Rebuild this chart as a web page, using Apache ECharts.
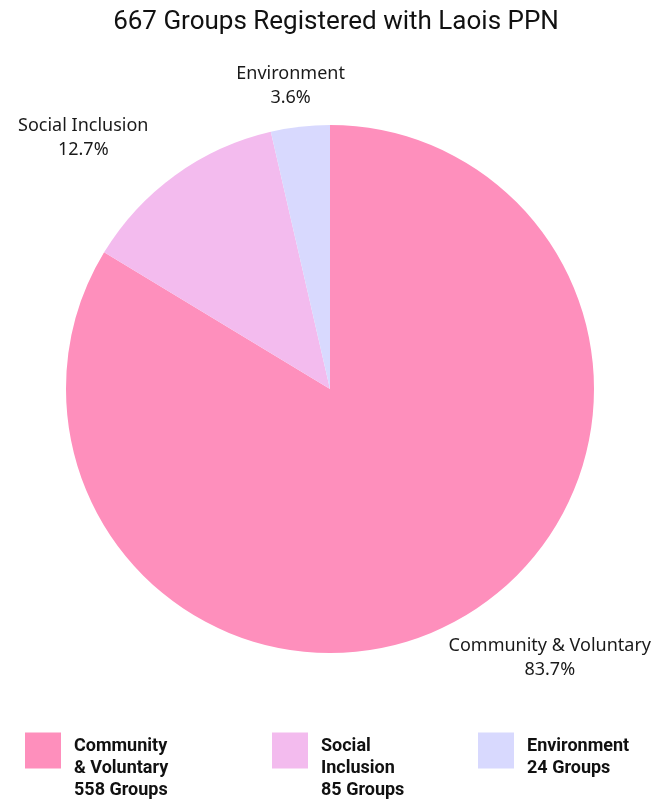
<!DOCTYPE html>
<html>
<head>
<meta charset="utf-8">
<script src="https://cdn.jsdelivr.net/npm/echarts@6/dist/echarts.min.js"></script>
<style>
  html, body { margin: 0; padding: 0; background: #fff; }
  #main { width: 672px; height: 802px; }
</style>
</head>
<body>
<div id="main"></div>
<script>
  var categories = ['Community & Voluntary', 'Social Inclusion', 'Environment'];
  var legendNames = [['Community', '& Voluntary'], ['Social', 'Inclusion'], ['Environment']];
  var groupCounts = [558, 85, 24];
  var colors = ['#fe8fbc', '#f3bbee', '#d8d9fe'];
  var total = 667;

  // label line lengths so the labels sit where the original put them
  var lineLen = [45, 46, 41];
  var lineLen2 = [63, 60, 0];

  var chart = echarts.init(document.getElementById('main'));

  var pieData = categories.map(function (name, i) {
    return {
      name: name,
      value: groupCounts[i],
      itemStyle: { color: colors[i] },
      labelLine: { show: false, length: lineLen[i], length2: lineLen2[i] }
    };
  });

  // legend text is vertically centred on the icon, so a spacer line
  // on top pushes it down to start level with the square
  function makeLegend(i, left, top, spacer) {
    return {
      data: [categories[i]],
      left: left,
      top: top,
      padding: 0,
      icon: 'rect',
      itemWidth: 36,
      itemHeight: 36,
      selectedMode: false,
      formatter: function () {
        var lines = legendNames[i].concat([groupCounts[i] + ' Groups']);
        return '{s| }\n' + lines.map(function (t) { return '{b|' + t + '}'; }).join('\n');
      },
      textStyle: {
        padding: [0, 0, 0, 8],
        rich: {
          s: { fontSize: 4, lineHeight: spacer },
          b: {
            fontFamily: 'Roboto',
            fontWeight: 'bold',
            fontSize: 18,
            lineHeight: 22,
            color: '#111'
          }
        }
      }
    };
  }

  var option = {
    animation: false,
    title: {
      text: total + ' Groups Registered with Laois PPN',
      left: 'center',
      top: 4,
      textStyle: { fontFamily: 'Roboto', fontWeight: 'normal', fontSize: 26, color: '#111' }
    },
    legend: [
      makeLegend(0, 25, 715.5, 35),
      makeLegend(1, 272, 715.5, 35),
      makeLegend(2, 478, 726.5, 13)
    ],
    series: [{
      type: 'pie',
      center: [330, 389],
      radius: 264,
      startAngle: 90,
      clockwise: true,
      avoidLabelOverlap: false,
      data: pieData,
      label: {
        show: true,
        position: 'outside',
        fontFamily: 'Noto Sans',
        fontSize: 18,
        lineHeight: 24,
        width: 260,
        overflow: 'none',
        color: '#1a1a1a',
        formatter: function (p) {
          return p.name + '\n' + (p.value / total * 100).toFixed(1) + '%';
        }
      },
      labelLayout: function () {
        return { align: 'center', hideOverlap: false };
      },
      emphasis: { disabled: true }
    }]
  };

  chart.setOption(option);
</script>
</body>
</html>
